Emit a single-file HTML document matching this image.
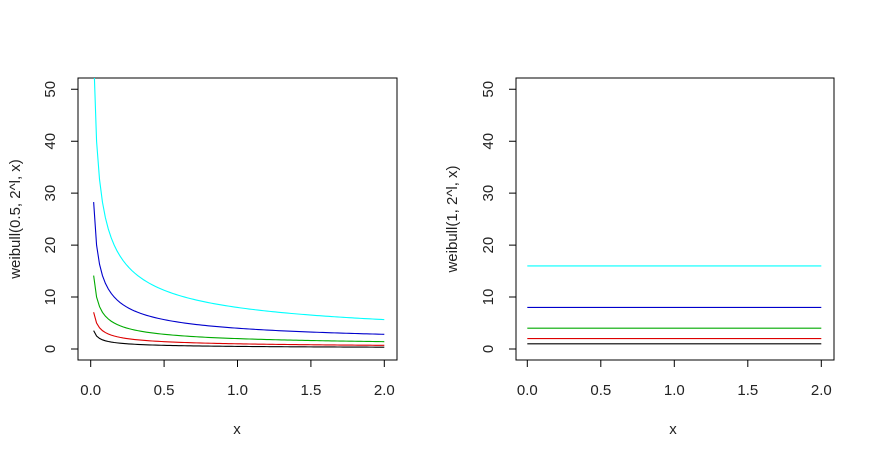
<!DOCTYPE html>
<html><head><meta charset="utf-8"><style>
body{margin:0;background:#fff}
svg{display:block}
text{font-family:"Liberation Sans",Arial,sans-serif;font-size:15px;fill:#222}
</style></head><body>
<svg id="s" width="874" height="458" xmlns="http://www.w3.org/2000/svg">
<defs>
<clipPath id="c1"><rect x="78" y="78" width="319" height="282"/></clipPath>
<clipPath id="c2"><rect x="516" y="78" width="318" height="282"/></clipPath>
</defs>
<rect x="78" y="78" width="319" height="282" fill="none" stroke="#000"/>
<rect x="516" y="78" width="318" height="282" fill="none" stroke="#000"/>
<g id="axes" stroke="#000" fill="none"></g>
<g id="lab"></g>
<g id="curves" fill="none" stroke-width="1.1"></g>
<text x="237" y="434" text-anchor="middle">x</text>
<text x="673" y="434" text-anchor="middle">x</text>
<text transform="translate(20,219) rotate(-90)" text-anchor="middle">weibull(0.5, 2^l, x)</text>
<text transform="translate(457,219) rotate(-90)" text-anchor="middle">weibull(1, 2^l, x)</text>
</svg>
<script>
var NS="http://www.w3.org/2000/svg";
function el(t,a,p,txt){var e=document.createElementNS(NS,t);for(var k in a)e.setAttribute(k,a[k]);if(txt!==undefined)e.textContent=txt;document.getElementById(p).appendChild(e);return e;}
var Y=function(v){return 349-v*5.194;};
var panels=[{x0:90.7,s:146.8,bl:78,by:360,lx:55,cl:"c1",k:0.5},{x0:527.3,s:147,bl:516,by:360,lx:493,cl:"c2",k:1}];
var cols=["#000","#d00","#0a0","#00c","#0ff"];
panels.forEach(function(p){
  var d="";
  [0,0.5,1,1.5,2].forEach(function(v){var x=p.x0+v*p.s;d+="M"+x+" "+p.by+"V"+(p.by+7);
    el("text",{x:x,y:395,"text-anchor":"middle"},"lab",v.toFixed(1));});
  var ax=p.bl;
  [0,10,20,30,40,50].forEach(function(v){d+="M"+ax+" "+Y(v)+"H"+(ax-7);
    el("text",{transform:"translate("+(p.lx)+","+Y(v)+") rotate(-90)","text-anchor":"middle"},"lab",v);});
  el("path",{d:d},"axes");
  for(var l=0;l<5;l++){
    var lam=Math.pow(2,l),pts=[];
    if(p.k==1){pts=[[0,lam],[2,lam]];}
    else{for(var x=0.02;x<=2.0001;x+=0.02){pts.push([x,0.5*lam/Math.sqrt(x)]);}}
    var dd=pts.map(function(q,i){return (i?"L":"M")+(p.x0+q[0]*p.s).toFixed(2)+" "+Y(q[1]).toFixed(2);}).join("");
    el("path",{d:dd,stroke:cols[l],"clip-path":"url(#"+p.cl+")"},"curves");
  }
});
</script>
</body></html>
